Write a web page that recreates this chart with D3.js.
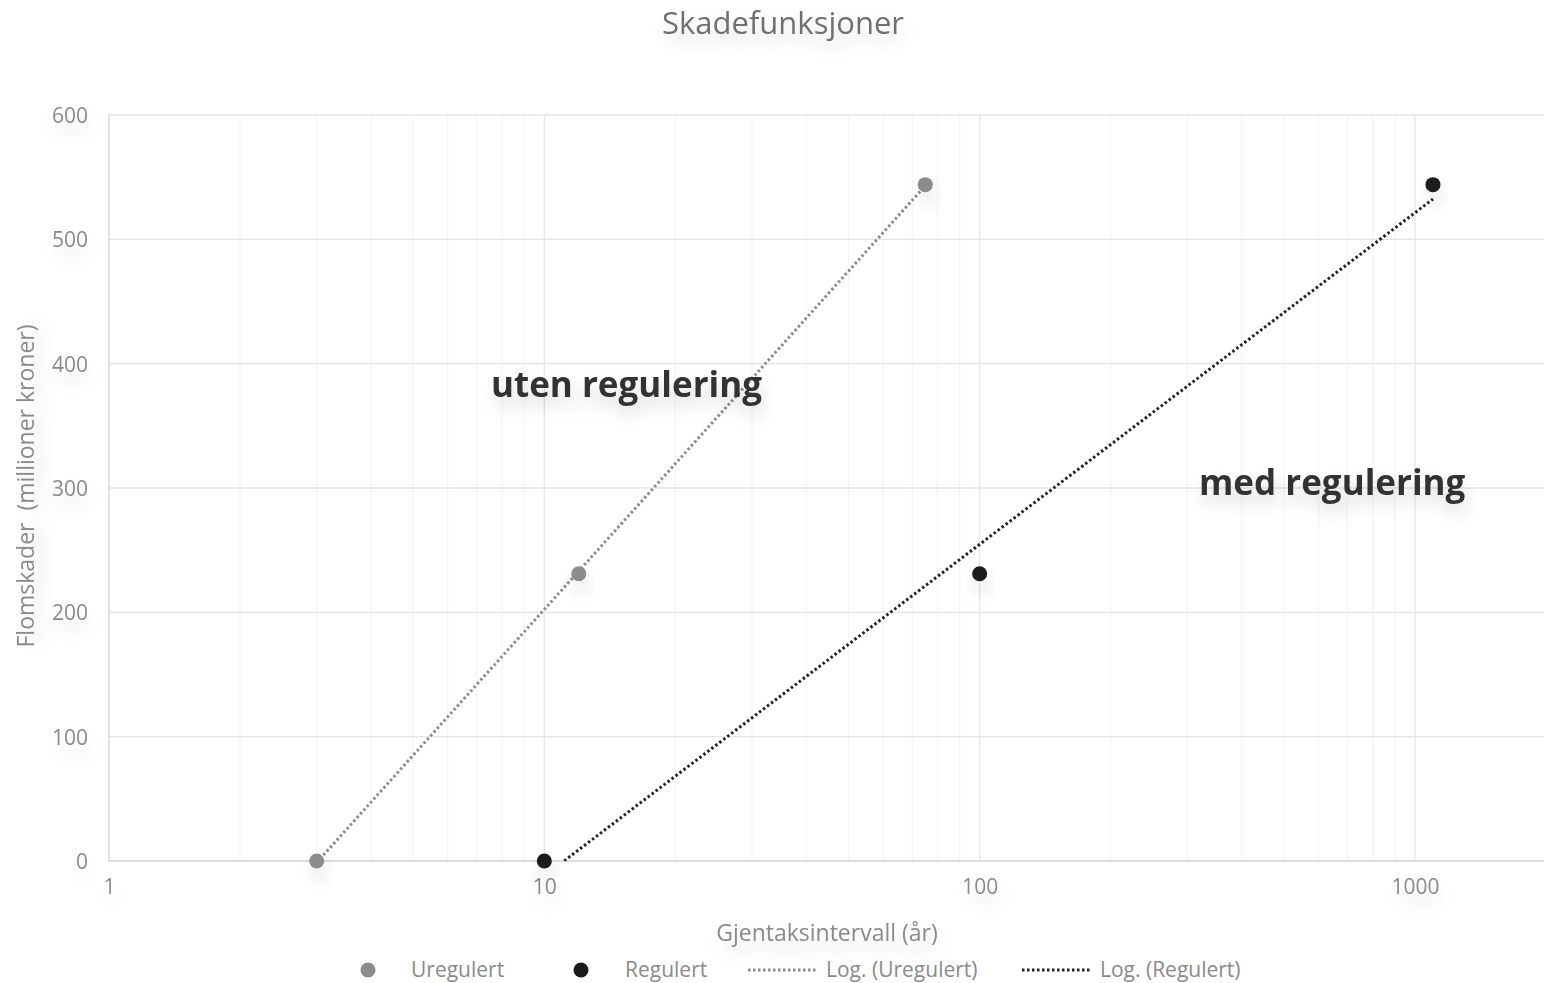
<!DOCTYPE html>
<html>
<head>
<meta charset="utf-8">
<script src="https://cdn.jsdelivr.net/npm/d3@7"></script>
<style>
  body { margin: 0; background: #fff; }
  svg { display: block; font-family: "Open Sans", sans-serif; }
</style>
</head>
<body>
<svg id="chart"></svg>
<script>
// data
var uregulertX = [3, 12, 75];
var uregulertY = [0, 231, 544];
var regulertX = [10, 100, 1100];
var regulertY = [0, 231, 544];
var yTicks = [0, 100, 200, 300, 400, 500, 600];
var xTicks = [1, 10, 100, 1000];
var legendLabels = ["Uregulert", "Regulert", "Log. (Uregulert)", "Log. (Regulert)"];

// basic settings
var width = 1544, height = 983;
var plotLeft = 109, plotRight = 1546, plotTop = 115, plotBottom = 861;

var svg = d3.select("#chart").attr("width", width).attr("height", height);

var x = d3.scaleLog().domain([1, 2000]).range([plotLeft, plotRight]);
var y = d3.scaleLinear().domain([0, 600]).range([plotBottom, plotTop]);

// soft shadow like the original
var defs = svg.append("defs");
var f = defs.append("filter").attr("id", "shadow").attr("x", "-50%").attr("y", "-50%").attr("width", "200%").attr("height", "300%");
f.append("feGaussianBlur").attr("in", "SourceAlpha").attr("stdDeviation", 9);
f.append("feOffset").attr("dx", 2).attr("dy", 10).attr("result", "b");
f.append("feComponentTransfer").append("feFuncA").attr("type", "linear").attr("slope", 0.15);
var m = f.append("feMerge");
m.append("feMergeNode");
m.append("feMergeNode").attr("in", "SourceGraphic");

defs.append("clipPath").attr("id", "plot")
  .append("rect").attr("x", plotLeft).attr("y", plotTop).attr("width", plotRight - plotLeft).attr("height", plotBottom - plotTop);

// minor vertical gridlines
var minor = [];
[1, 10, 100, 1000].forEach(function(d) {
  for (var k = 2; k <= 9; k++) if (d * k <= 2000) minor.push(d * k);
});
svg.append("g").selectAll("line").data(minor).enter().append("line")
  .attr("x1", function(d) { return x(d); }).attr("x2", function(d) { return x(d); })
  .attr("y1", plotTop).attr("y2", plotBottom)
  .attr("stroke", "#f2f2f2").attr("stroke-width", 1);

// major gridlines
svg.append("g").selectAll("line").data(yTicks).enter().append("line")
  .attr("x1", plotLeft).attr("x2", plotRight)
  .attr("y1", function(d) { return y(d); }).attr("y2", function(d) { return y(d); })
  .attr("stroke", function(d) { return d === 0 ? "#d0d0d0" : "#e4e4e4"; }).attr("stroke-width", 1.3);
svg.append("g").selectAll("line").data(xTicks).enter().append("line")
  .attr("x1", function(d) { return x(d); }).attr("x2", function(d) { return x(d); })
  .attr("y1", plotTop).attr("y2", plotBottom)
  .attr("stroke", function(d) { return d === 1 ? "#d0d0d0" : "#e6e6e6"; }).attr("stroke-width", 1.3);

// axes
var yAxis = svg.append("g").attr("transform", "translate(" + (plotLeft - 21) + ",0)")
  .call(d3.axisLeft(y).tickValues(yTicks).tickSize(0).tickPadding(0));
var xAxis = svg.append("g").attr("transform", "translate(0," + (plotBottom + 20) + ")")
  .call(d3.axisBottom(x).tickValues(xTicks).tickFormat(d3.format("d")).tickSize(0).tickPadding(0));
[yAxis, xAxis].forEach(function(a) {
  a.select(".domain").remove();
  a.selectAll("text").attr("fill", "#8a8a8a").style("font-size", "21px").style("font-family", "Open Sans").attr("filter", "url(#shadow)");
});
xAxis.selectAll("text").attr("dy", "0.6em");
yAxis.selectAll("text").attr("dy", "0.35em");

// log trendlines (least squares on ln x)
function logFit(xs, ys) {
  var lx = xs.map(Math.log);
  var mx = d3.mean(lx), my = d3.mean(ys);
  var a = d3.sum(lx, function(v, i) { return (v - mx) * (ys[i] - my); }) / d3.sum(lx, function(v) { return (v - mx) * (v - mx); });
  var b = my - a * mx;
  return function(v) { return a * Math.log(v) + b; };
}
var line = d3.line().x(function(d) { return x(d[0]); }).y(function(d) { return y(d[1]); });
function trend(xs, ys, color) {
  var fn = logFit(xs, ys);
  var ext = d3.extent(xs);
  var pts = d3.range(0, 41).map(function(i) {
    var v = Math.exp(Math.log(ext[0]) + (Math.log(ext[1]) - Math.log(ext[0])) * i / 40);
    return [v, fn(v)];
  });
  svg.append("path").attr("d", line(pts)).attr("clip-path", "url(#plot)")
    .attr("fill", "none").attr("stroke", color).attr("stroke-width", 3)
    .attr("stroke-dasharray", "2.5,2.5");
}
trend(uregulertX, uregulertY, "#8c8c8c");
trend(regulertX, regulertY, "#222");

// points
function points(xs, ys, color) {
  svg.append("g").selectAll("circle").data(xs).enter().append("circle")
    .attr("cx", function(d) { return x(d); })
    .attr("cy", function(d, i) { return y(ys[i]); })
    .attr("r", 7.5).attr("fill", color).attr("filter", "url(#shadow)");
}
points(uregulertX, uregulertY, "#8c8c8c");
points(regulertX, regulertY, "#1a1a1a");

// title and axis titles
svg.append("text").attr("x", 783).attr("y", 34).attr("text-anchor", "middle")
  .attr("fill", "#707070").style("font-size", "31px").attr("filter", "url(#shadow)")
  .text("Skadefunksjoner");
svg.append("text").attr("x", 827).attr("y", 941).attr("text-anchor", "middle")
  .attr("fill", "#8a8a8a").style("font-size", "23px").attr("filter", "url(#shadow)")
  .text("Gjentaksintervall (år)");
svg.append("text").attr("transform", "translate(34,486) rotate(-90)").attr("text-anchor", "middle")
  .attr("fill", "#8a8a8a").style("font-size", "23px").attr("filter", "url(#shadow)")
  .style("white-space", "pre").text("Flomskader  (millioner kroner)");

// annotations
svg.append("text").attr("x", 491).attr("y", 397).attr("fill", "#333")
  .style("font-size", "35px").style("font-weight", "bold").attr("filter", "url(#shadow)")
  .text("uten regulering");
svg.append("text").attr("x", 1199).attr("y", 495).attr("fill", "#333")
  .style("font-size", "35px").style("font-weight", "bold").attr("filter", "url(#shadow)")
  .text("med regulering");

// legend
var lg = svg.append("g").attr("transform", "translate(0,970)");
lg.append("circle").attr("cx", 368).attr("cy", 0).attr("r", 7.5).attr("fill", "#8c8c8c");
lg.append("circle").attr("cx", 581).attr("cy", 0).attr("r", 7.5).attr("fill", "#1a1a1a");
lg.append("line").attr("x1", 748).attr("x2", 818).attr("y1", 0).attr("y2", 0)
  .attr("stroke", "#8c8c8c").attr("stroke-width", 3).attr("stroke-dasharray", "2.5,2.5");
lg.append("line").attr("x1", 1022).attr("x2", 1092).attr("y1", 0).attr("y2", 0)
  .attr("stroke", "#222").attr("stroke-width", 3).attr("stroke-dasharray", "2.5,2.5");
var lx = [411, 625, 826, 1100];
lg.selectAll("text.lab").data(legendLabels).enter().append("text")
  .attr("x", function(d, i) { return lx[i]; }).attr("y", 0).attr("dy", "0.35em")
  .attr("fill", "#8a8a8a").style("font-size", "21px").text(function(d) { return d; });
</script>
</body>
</html>
